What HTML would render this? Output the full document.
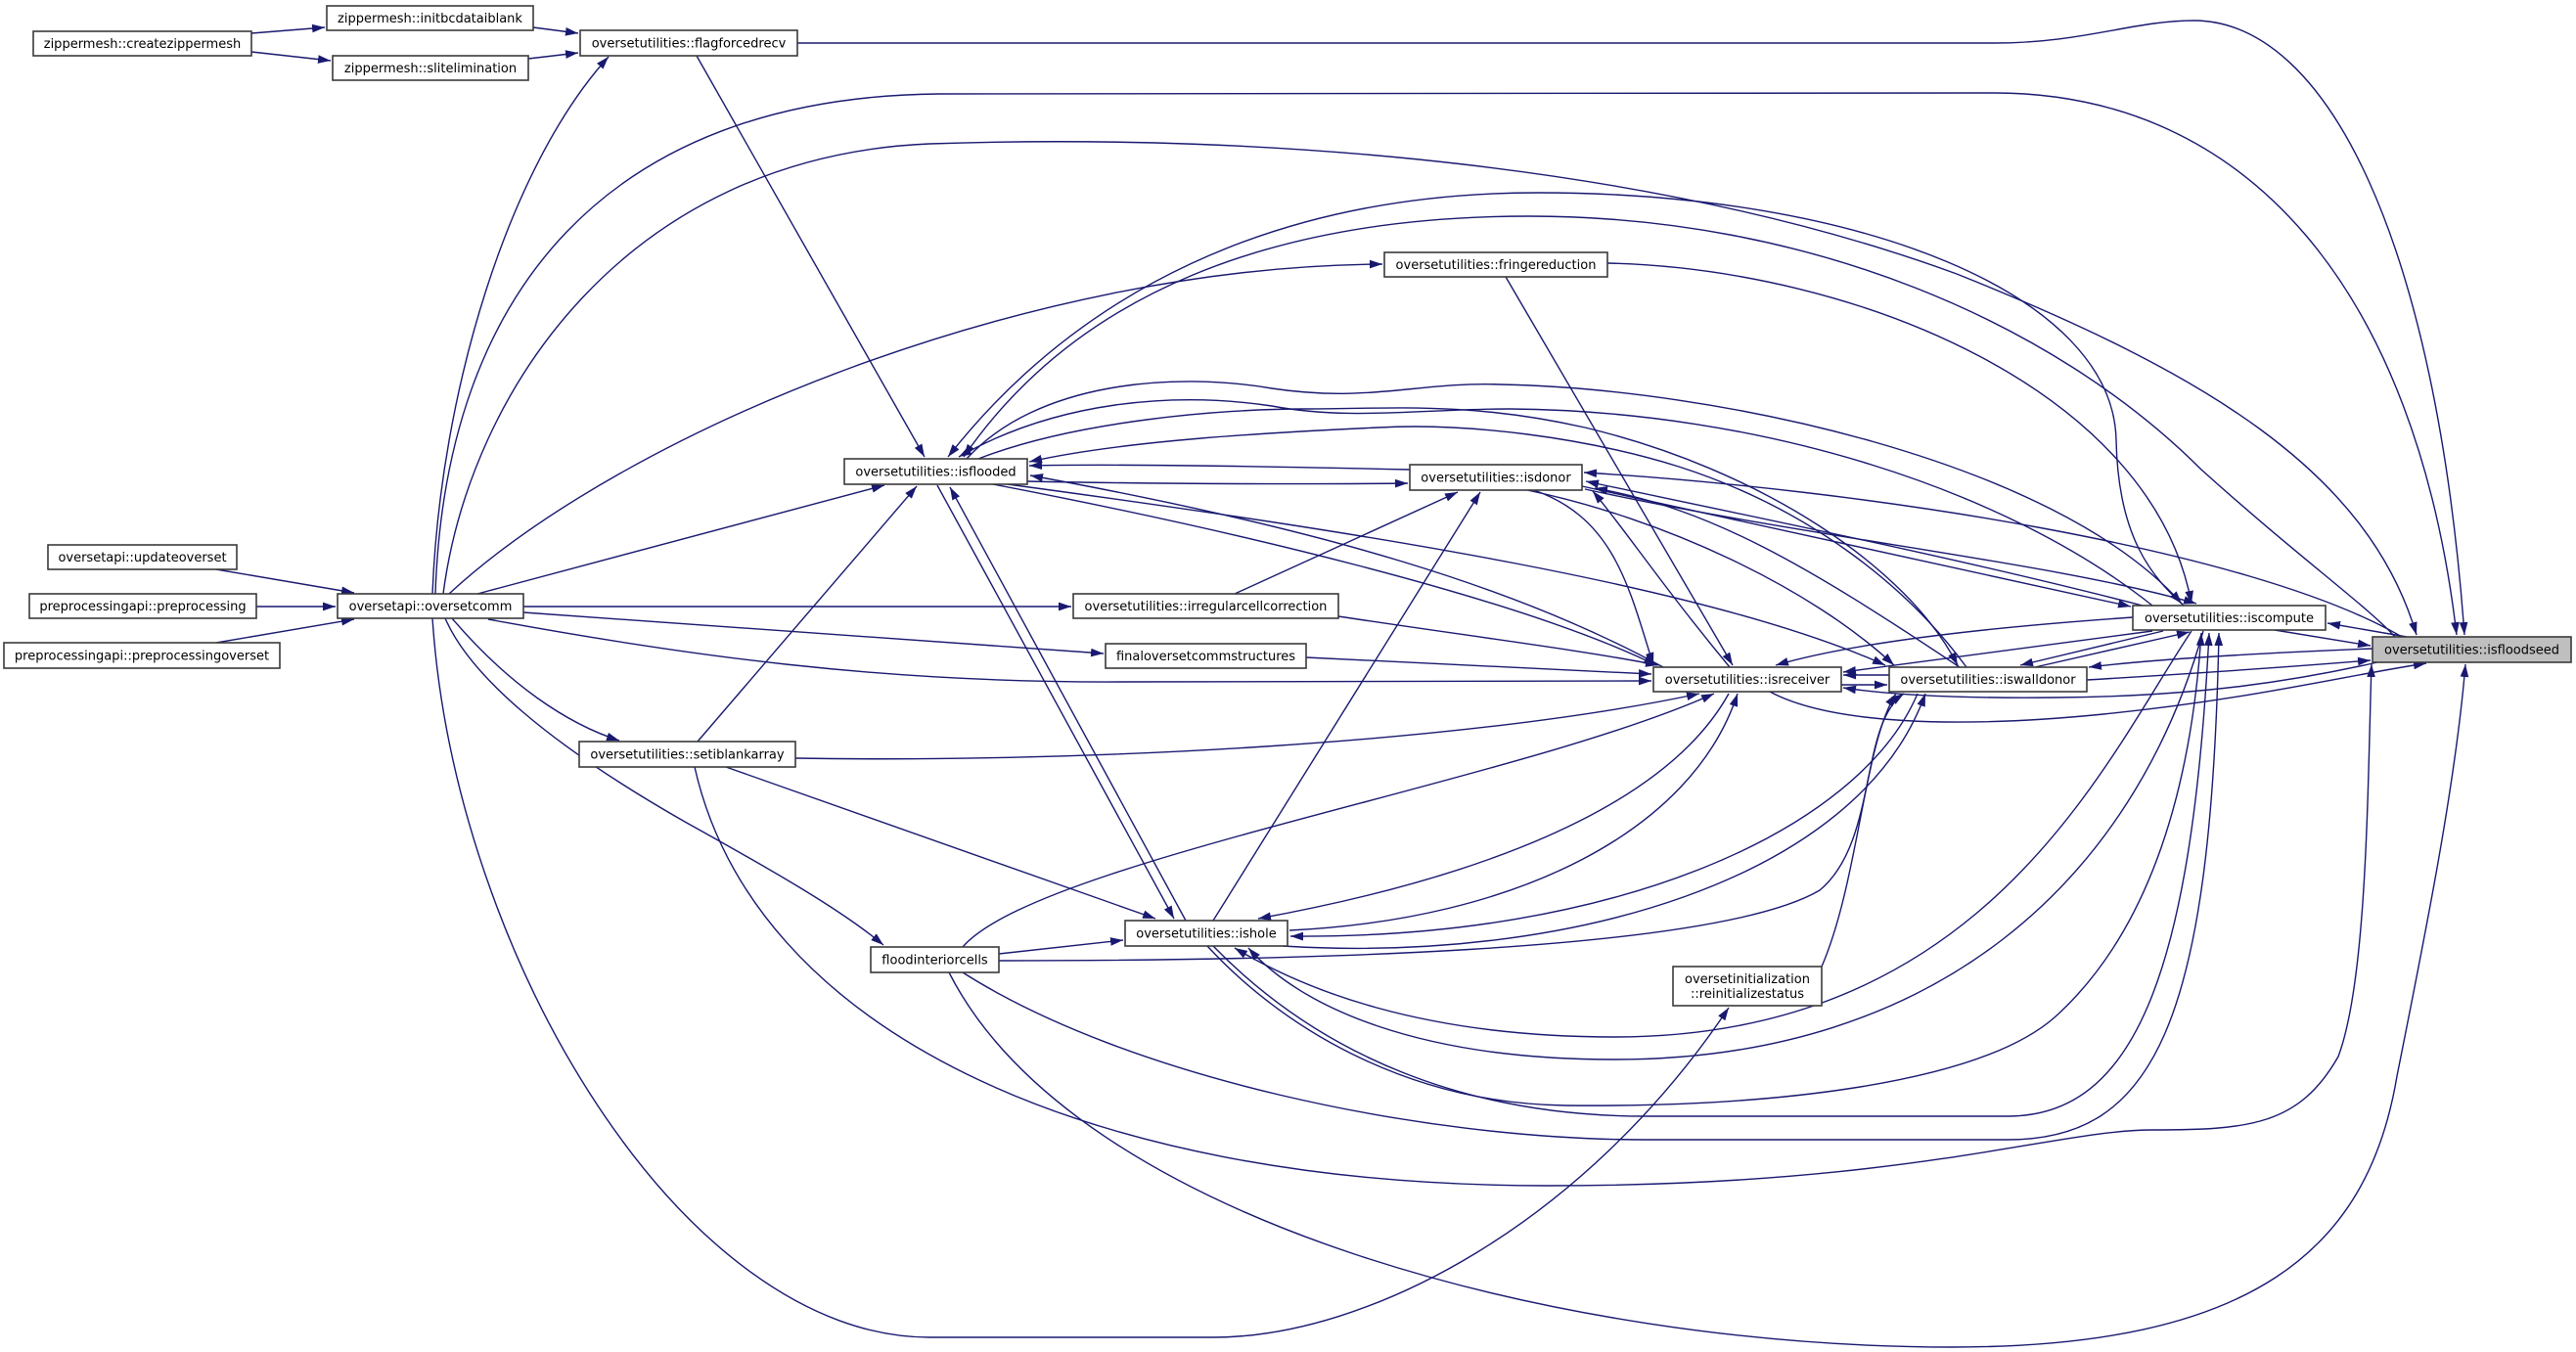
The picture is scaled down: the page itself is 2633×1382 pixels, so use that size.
<!DOCTYPE html>
<html><head><meta charset="utf-8"><style>
html,body{margin:0;padding:0;background:#fff;}
svg{display:block;}
text{font-family:"DejaVu Sans","Liberation Sans",sans-serif;font-size:13px;fill:#000;}
.e{fill:none;stroke:#191970;stroke-width:1.4;}
.n{fill:#fff;stroke:#3a3a3a;stroke-width:1.6;}
</style></head><body>
<svg width="2633" height="1382" viewBox="0 0 2633 1382" xmlns="http://www.w3.org/2000/svg">
<defs><marker id="a" viewBox="0 0 12 8" refX="12" refY="4" markerWidth="13" markerHeight="9" markerUnits="userSpaceOnUse" orient="auto"><path d="M0,0L12,4L0,8z" fill="#191970"/></marker></defs>
<rect width="2633" height="1382" fill="#fff"/>
<g class="e" marker-end="url(#a)">
<path d="M257,34 L332,28"/>
<path d="M257,53 L338,62"/>
<path d="M545,28 L591,34"/>
<path d="M540,60 L591,54"/>
<path d="M815,44 L2038,44 C2130,44 2180,21 2243,21 C2380,22 2490,250 2519,649"/>
<path d="M442,607 C450,400 520,170 622,58"/>
<path d="M221,582 L362,606"/>
<path d="M262,620 L343,620"/>
<path d="M221,657 L362,633"/>
<path d="M712,57 L945,467"/>
<path d="M488,607 L904,496"/>
<path d="M459,607 C640,440 1050,272 1413,270"/>
<path d="M445,607 C455,300 620,99 960,96 L2038,95 C2300,95 2470,300 2511,649"/>
<path d="M453,607 C480,400 640,160 950,147 C1300,135 1700,170 2000,280 C2250,380 2420,480 2470,649"/>
<path d="M535,620 L1095,620"/>
<path d="M535,626 L1128,668"/>
<path d="M499,633 C700,670 900,698 1144,697 L1688,696"/>
<path d="M462,632 C520,700 580,740 633,757"/>
<path d="M455,632 C480,690 560,760 700,840 C790,890 860,930 903,966"/>
<path d="M442,632 C465,980 700,1367 950,1367 L1240,1367 C1400,1367 1620,1250 1767,1030"/>
<path d="M713,758 L937,497"/>
<path d="M958,496 L1200,939"/>
<path d="M1212,941 L971,498"/>
<path d="M742,784 L1181,939"/>
<path d="M2232,619 C2200,590 2165,550 2163,450 C2160,300 1900,197 1572,197 C1300,197 1100,300 969,467"/>
<path d="M2448,651 C2420,620 2350,570 2250,480 C2100,330 1850,221 1563,221 C1300,221 1100,300 985,467"/>
<path d="M988,469 C1060,390 1200,380 1300,397 C1400,412 1450,390 1534,393 C1750,397 2100,470 2230,617"/>
<path d="M2200,619 C2050,500 1800,420 1543,418 C1450,418 1380,430 1300,415 C1200,400 1080,410 980,467"/>
<path d="M1000,469 C1100,430 1250,418 1333,418 C1420,418 1500,410 1620,437 C1800,480 1950,580 2001,680"/>
<path d="M2010,682 C1950,600 1850,520 1716,477 C1620,447 1500,432 1409,437 C1300,442 1150,450 1052,472"/>
<path d="M1441,480 C1300,477 1150,474 1052,476"/>
<path d="M1050,492 C1200,495 1350,495 1439,494"/>
<path d="M1030,495 C1400,545 1750,600 1927,680"/>
<path d="M1700,682 C1550,600 1350,540 1053,486"/>
<path d="M1015,495 C1250,540 1550,610 1693,680"/>
<path d="M1262,607 L1490,503"/>
<path d="M1240,941 L1513,503"/>
<path d="M1368,630 C1500,650 1620,665 1695,680"/>
<path d="M1335,672 L1688,689"/>
<path d="M1539,283 L1771,680"/>
<path d="M1643,269 C1900,275 2200,400 2240,617"/>
<path d="M2455,651 C2300,560 1900,500 1619,483"/>
<path d="M1617,497 L2178,620"/>
<path d="M1620,500 C1850,550 2100,575 2245,617"/>
<path d="M2190,619 C2000,570 1800,530 1621,492"/>
<path d="M1561,501 C1700,530 1850,600 1936,680"/>
<path d="M1568,501 C1650,530 1665,600 1690,680"/>
<path d="M1768,682 C1700,600 1660,540 1628,502"/>
<path d="M2003,682 C1850,580 1750,520 1630,499"/>
<path d="M2325,644 L2423,660"/>
<path d="M2460,651 L2379,637"/>
<path d="M2425,663 C2300,668 2200,674 2135,682"/>
<path d="M2133,695 C2250,688 2350,681 2423,675"/>
<path d="M2430,677 C2350,695 2250,712 2100,713 C2000,714 1930,710 1884,703"/>
<path d="M1809,707 C1870,740 2000,745 2150,730 C2300,715 2400,690 2480,678"/>
<path d="M2180,631 C2050,640 1900,655 1815,680"/>
<path d="M2200,645 L1884,687"/>
<path d="M2211,645 L2065,680"/>
<path d="M2080,682 L2238,646"/>
<path d="M1882,700 L1929,700"/>
<path d="M1931,690 L1884,690"/>
<path d="M813,775 C1100,780 1500,760 1737,709"/>
<path d="M984,968 C1060,880 1550,800 1752,709"/>
<path d="M1021,975 L1148,961"/>
<path d="M1021,982 C1300,982 1750,975 1860,910 C1920,860 1900,740 1946,709"/>
<path d="M1862,988 C1900,900 1905,760 1938,709"/>
<path d="M1767,709 C1700,830 1500,900 1286,939"/>
<path d="M1318,951 C1550,940 1730,850 1776,709"/>
<path d="M1960,709 C1900,850 1650,960 1319,957"/>
<path d="M1311,967 C1600,985 1900,900 1968,709"/>
<path d="M710,784 C770,1050 1100,1212 1582,1212 C1950,1212 2100,1155 2200,1155 C2300,1155 2350,1150 2390,1080 C2420,1000 2420,800 2424,679"/>
<path d="M970,994 C1100,1250 1600,1377 1995,1377 C2300,1377 2420,1280 2450,1100 C2480,950 2510,800 2520,679"/>
<path d="M984,994 C1150,1100 1450,1165 1682,1165 L2052,1165 C2200,1165 2260,1050 2268,647"/>
<path d="M1240,967 C1350,1080 1500,1141 1682,1141 L2052,1141 C2180,1141 2240,1000 2258,647"/>
<path d="M1234,967 C1320,1060 1450,1128 1600,1130 C1800,1132 2020,1110 2100,1040 C2200,950 2240,800 2250,647"/>
<path d="M2240,645 C2150,780 2030,1060 1650,1060 C1450,1060 1330,1010 1262,969"/>
<path d="M2252,645 C2180,900 1980,1083 1650,1083 C1450,1083 1330,1030 1276,969"/>
</g>
<g>
<rect class="n" x="34" y="32" width="223" height="25"/><text x="145.5" y="49" text-anchor="middle">zippermesh::createzippermesh</text>
<rect class="n" x="334" y="6" width="211" height="25"/><text x="439.5" y="23" text-anchor="middle">zippermesh::initbcdataiblank</text>
<rect class="n" x="340" y="57" width="200" height="25"/><text x="440" y="74" text-anchor="middle">zippermesh::slitelimination</text>
<rect class="n" x="593" y="31" width="222" height="26"/><text x="704" y="48.5" text-anchor="middle">oversetutilities::flagforcedrecv</text>
<rect class="n" x="1415" y="258" width="228" height="25"/><text x="1529" y="275" text-anchor="middle">oversetutilities::fringereduction</text>
<rect class="n" x="863" y="469" width="187" height="26"/><text x="956.5" y="486.5" text-anchor="middle">oversetutilities::isflooded</text>
<rect class="n" x="1441" y="475" width="176" height="26"/><text x="1529" y="492.5" text-anchor="middle">oversetutilities::isdonor</text>
<rect class="n" x="49" y="557" width="193" height="25"/><text x="145.5" y="574" text-anchor="middle">oversetapi::updateoverset</text>
<rect class="n" x="30" y="607" width="232" height="25"/><text x="146" y="624" text-anchor="middle">preprocessingapi::preprocessing</text>
<rect class="n" x="345" y="607" width="190" height="25"/><text x="440" y="624" text-anchor="middle">oversetapi::oversetcomm</text>
<rect class="n" x="4" y="657" width="282" height="26"/><text x="145" y="674.5" text-anchor="middle">preprocessingapi::preprocessingoverset</text>
<rect class="n" x="1097" y="607" width="271" height="25"/><text x="1232.5" y="624" text-anchor="middle">oversetutilities::irregularcellcorrection</text>
<rect class="n" x="1130" y="658" width="205" height="25"/><text x="1232.5" y="675" text-anchor="middle">finaloversetcommstructures</text>
<rect class="n" x="2180" y="619" width="197" height="25"/><text x="2278.5" y="636" text-anchor="middle">oversetutilities::iscompute</text>
<rect x="2425" y="651" width="203" height="26" fill="#bfbfbf" stroke="#3a3a3a" stroke-width="1.6"/><text x="2526.5" y="668.5" text-anchor="middle">oversetutilities::isfloodseed</text>
<rect class="n" x="1690" y="682" width="192" height="25"/><text x="1786" y="699" text-anchor="middle">oversetutilities::isreceiver</text>
<rect class="n" x="1931" y="682" width="202" height="25"/><text x="2032" y="699" text-anchor="middle">oversetutilities::iswalldonor</text>
<rect class="n" x="592" y="758" width="221" height="26"/><text x="702.5" y="775.5" text-anchor="middle">oversetutilities::setiblankarray</text>
<rect class="n" x="1150" y="941" width="166" height="26"/><text x="1233" y="958.5" text-anchor="middle">oversetutilities::ishole</text>
<rect class="n" x="890" y="968" width="131" height="26"/><text x="955.5" y="985.5" text-anchor="middle">floodinteriorcells</text>
<rect class="n" x="1710" y="988" width="152" height="40"/><text x="1786" y="1005" text-anchor="middle">oversetinitialization</text><text x="1786" y="1020" text-anchor="middle">::reinitializestatus</text>
</g>
</svg>
</body></html>
